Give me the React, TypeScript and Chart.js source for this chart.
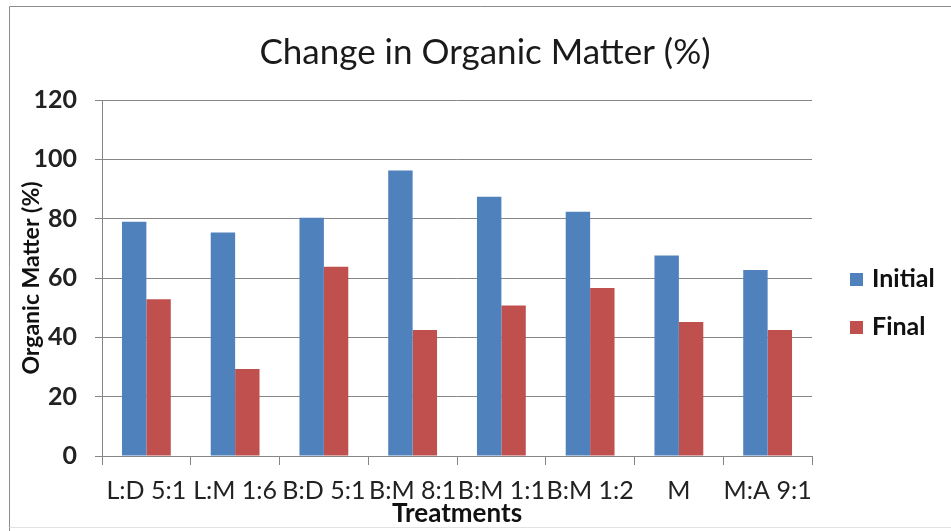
import React, { useEffect, useRef } from "react";
import { Chart, registerables } from "chart.js";

Chart.register(...registerables);

const categories = ["L:D 5:1", "L:M 1:6", "B:D 5:1", "B:M 8:1", "B:M 1:1", "B:M 1:2", "M", "M:A 9:1"];
const initialValues = [79, 75.3, 80.3, 96.2, 87.4, 82.3, 67.6, 62.7];
const finalValues = [52.8, 29.3, 63.8, 42.5, 50.7, 56.6, 45.2, 42.5];
const seriesNames = ["Initial", "Final"];
const chartTitle = "Change in Organic Matter (%)";
const yTitle = "Organic Matter (%)";
const xTitle = "Treatments";

const BLUE = "#4F81BD";
const RED = "#C0504D";
const GRID = "#868686";
const FONT = "Lato";

const decorPlugin = {
  id: "decor",
  afterDraw(chart: any) {
    const ctx = chart.ctx as CanvasRenderingContext2D;
    const area = chart.chartArea;
    ctx.save();
    // outer frame
    ctx.strokeStyle = "#8c8c8c";
    ctx.lineWidth = 1;
    ctx.beginPath();
    ctx.moveTo(9.5, 531);
    ctx.lineTo(9.5, 6.5);
    ctx.lineTo(951, 6.5);
    ctx.stroke();
    ctx.strokeStyle = "#e2e2e2";
    ctx.beginPath();
    ctx.moveTo(9.5, 527.5);
    ctx.lineTo(951, 527.5);
    ctx.stroke();

    // title
    ctx.fillStyle = "#1a1a1a";
    ctx.font = `35px ${FONT}`;
    ctx.textAlign = "center";
    ctx.textBaseline = "alphabetic";
    ctx.fillText(chartTitle, 485, 64);

    // y title
    ctx.save();
    ctx.translate(32, (area.top + area.bottom) / 2);
    ctx.rotate(-Math.PI / 2);
    ctx.font = `bold 23px ${FONT}`;
    ctx.fillStyle = "#111";
    ctx.textBaseline = "middle";
    ctx.fillText(yTitle, 0, 0);
    ctx.restore();

    // x title
    ctx.font = `bold 26px ${FONT}`;
    ctx.fillStyle = "#111";
    ctx.textBaseline = "middle";
    ctx.textAlign = "center";
    ctx.fillText(xTitle, (area.left + area.right) / 2, 514);

    // legend
    const colors = [BLUE, RED];
    const ys = [279, 327];
    ctx.textAlign = "left";
    ctx.font = `bold 25px ${FONT}`;
    seriesNames.forEach((name, i) => {
      ctx.fillStyle = colors[i];
      ctx.fillRect(850, ys[i] - 6, 13, 13);
      ctx.fillStyle = "#111";
      ctx.fillText(name, 872, ys[i]);
    });
    ctx.restore();
  },
};

export default function App() {
  const ref = useRef<HTMLCanvasElement>(null);
  useEffect(() => {
    if (!ref.current) return;
    const chart = new Chart(ref.current, {
      type: "bar",
      data: {
        labels: categories,
        datasets: [
          { label: seriesNames[0], data: initialValues, backgroundColor: BLUE, categoryPercentage: 0.55, barPercentage: 1 },
          { label: seriesNames[1], data: finalValues, backgroundColor: RED, categoryPercentage: 0.55, barPercentage: 1 },
        ],
      },
      options: {
        responsive: false,
        animation: false,
        devicePixelRatio: 1,
        layout: { padding: { left: 0, top: 100, right: 139, bottom: 0 } },
        plugins: {
          legend: { display: false },
          title: { display: false },
          tooltip: { enabled: false },
        },
        scales: {
          x: {
            grid: { offset: true, drawOnChartArea: false, drawTicks: true, tickLength: 9, color: GRID },
            border: { display: true, color: GRID },
            ticks: {
              autoSkip: false,
              maxRotation: 0,
              minRotation: 0,
              padding: 11,
              color: "#222",
              font: { family: FONT, size: 25 },
            },
            afterFit(scale: any) {
              scale.height = 75;
            },
          },
          y: {
            min: 0,
            max: 120,
            ticks: {
              stepSize: 20,
              padding: 18,
              color: "#222",
              font: { family: FONT, size: 25, weight: "bold" },
            },
            grid: { color: GRID, tickLength: 7, drawTicks: true },
            border: { display: true, color: GRID },
            afterFit(scale: any) {
              scale.width = 102;
            },
          },
        },
      },
      plugins: [decorPlugin],
    });
    return () => chart.destroy();
  }, []);
  return (
    <div style={{ position: "fixed", left: 0, top: 0, width: 951, height: 531, background: "#fff" }}>
      <canvas ref={ref} width={951} height={531} />
    </div>
  );
}
